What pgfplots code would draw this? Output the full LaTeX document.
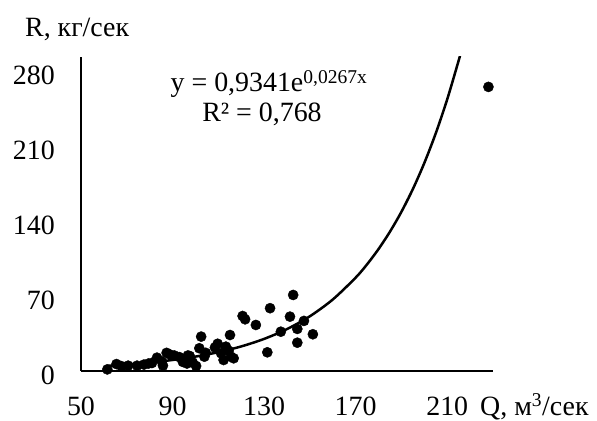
\documentclass[border=0pt]{standalone}
\usepackage{fontspec}
\setmainfont{Liberation Serif}
\usepackage{pgfplots}
\pgfplotsset{compat=1.18}

\begin{document}
\begin{tikzpicture}[font=\fontsize{28}{33}\selectfont]
\begin{axis}[
  at={(0,0)}, anchor=south west, scale only axis,
  width=412bp, height=314bp,
  xmin=50, xmax=230, ymin=0, ymax=294,
  axis x line=bottom, axis y line=left,
  axis line style={-, line width=1.5bp, black},
  xtick={50,90,130,170,210}, ytick={0,70,140,210,280},
  major tick length=0pt,
  /pgf/number format/assume math mode=true,
  /pgf/number format/1000 sep={},
  xticklabel style={anchor=base, inner sep=0pt, yshift=-44bp},
  yticklabel style={anchor=base east, inner sep=0pt, xshift=-26bp, yshift=-13bp},
]
% observed discharge Q vs. sediment load R
\addplot[only marks, mark=*, mark size=5.1bp, black] coordinates {
  (61.5,1.5) (65.5,6.5) (67.7,4.5) (70.6,5) (74.5,5) (77.5,6) (79.5,7)
  (81,7.5) (83.2,12.5) (85.3,9) (85.8,5) (87.4,17) (88.8,15.5) (90.8,14.5)
  (93,13) (94.5,8.5) (95.2,11) (96.7,14.5) (96.3,7) (98.8,8) (97.5,14)
  (100.3,4.7) (101.7,21.3) (102.5,32.2) (103.9,13.4) (104.5,17) (108.5,22)
  (109.7,25.5) (111.2,16.6) (112.3,10.3) (113.3,22.8) (114.5,19) (115.1,33.7)
  (115.5,13.4) (116.7,11.9) (120.6,51.5) (121.7,48.4) (126.4,43.1)
  (131.4,17.5) (132.6,58.8) (137.3,36.8) (141.3,50.9) (142.7,71.2)
  (144.5,39.4) (144.5,26.5) (147.4,46.9) (151.3,34.4) (228,266)
};
% exponential trend y = 0.9341 exp(0.0267 x), tabulated
\addplot[smooth, black, line width=2.5bp] coordinates {
  (61.5,4.82) (70,6.06) (80,7.91) (90,10.33) (100,13.49) (110,17.62)
  (120,23.01) (130,30.05) (140,39.25) (150,51.26) (160,66.95) (170,87.44)
  (175,99.92) (180,114.2) (185,130.5) (190,149.1) (195,170.4) (200,194.8)
  (205,222.6) (210,254.4) (215,290.7) (216,298.6)
};
\end{axis}
\node[anchor=base west, inner sep=0pt] at (-56bp,334bp) {R, кг/сек};
\node[anchor=base west, inner sep=0pt] at (399bp,-44bp) {Q, м\textsuperscript{3}/сек};
\node[anchor=base, inner sep=0pt] at (188bp,279bp) {y = 0,9341e\textsuperscript{0,0267x}};
\node[anchor=base, inner sep=0pt] at (181bp,249bp) {R² = 0,768};
\path[use as bounding box] (-81bp,-50bp) rectangle (516bp,371bp);
\end{tikzpicture}
\end{document}
